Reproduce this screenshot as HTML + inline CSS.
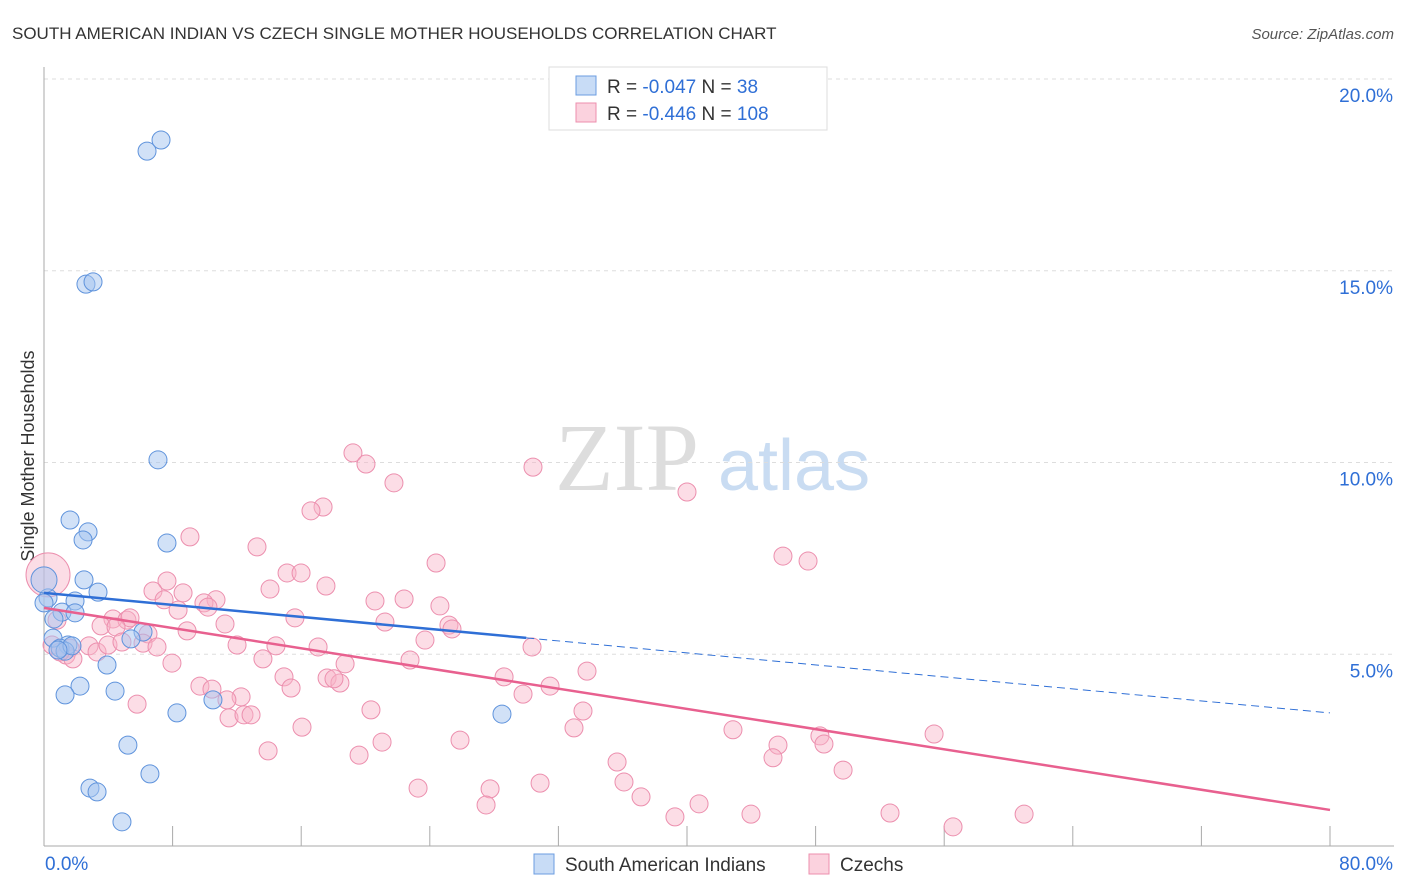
<!DOCTYPE html>
<html><head><meta charset="utf-8">
<style>
body{margin:0;background:#fff;font-family:"Liberation Sans",sans-serif;}
#wrap{position:relative;width:1406px;height:892px;overflow:hidden;}
</style></head>
<body>
<div id="wrap">
<svg id="svg" width="1406" height="892" xmlns="http://www.w3.org/2000/svg">
<text x="12" y="39" font-size="17" fill="#333">SOUTH AMERICAN INDIAN VS CZECH SINGLE MOTHER HOUSEHOLDS CORRELATION CHART</text>
<text x="1394" y="39" font-size="15" fill="#555" font-style="italic" text-anchor="end">Source: ZipAtlas.com</text>
<text x="34" y="456" font-size="18" fill="#333" text-anchor="middle" transform="rotate(-90 34 456)">Single Mother Households</text>
<g>
<text x="555" y="490" font-size="96" fill="#ddd" font-family="Liberation Serif,serif">ZIP</text>
<text x="718" y="490" font-size="72" fill="#c9dcf2">atlas</text>
</g>
<g id="grid"></g>
<g id="axes"></g>
<g id="pts"></g>
<g id="lines"></g>
<g>
<rect x="549" y="67" width="278" height="63" fill="#fff" stroke="#ddd"/>
<rect x="576" y="76" width="20" height="19" fill="rgba(164,196,240,0.6)" stroke="#6b9de0"/>
<rect x="576" y="103" width="20" height="19" fill="rgba(248,180,200,0.6)" stroke="#ec8fae"/>
<text x="607" y="93" font-size="19" fill="#333">R = <tspan fill="#2f6fd6">-0.047</tspan>   N = <tspan fill="#2f6fd6">  38</tspan></text>
<text x="607" y="120" font-size="19" fill="#333">R = <tspan fill="#2f6fd6">-0.446</tspan>   N = <tspan fill="#2f6fd6">108</tspan></text>
</g>
<g>
<rect x="534" y="854" width="20" height="20" fill="rgba(164,196,240,0.6)" stroke="#6b9de0"/>
<text x="565" y="871" font-size="19" fill="#333">South American Indians</text>
<rect x="809" y="854" width="20" height="20" fill="rgba(248,180,200,0.6)" stroke="#ec8fae"/>
<text x="840" y="871" font-size="19" fill="#333">Czechs</text>
</g>
</svg>
</div>
<script>
const yTicks=[5,10,15,20];
const yTickLabels=["5.0%","10.0%","15.0%","20.0%"];
const xTickLabels=["0.0%","80.0%"];
const blueX=[6.41,7.28,2.61,3.05,7.09,1.62,2.74,2.43,7.65,2.49,3.36,0.25,1.93,1.12,1.93,0.62,6.16,0.56,5.41,1.49,1.0,1.31,1.74,3.92,2.24,4.42,1.31,8.27,10.51,28.49,5.22,6.59,2.86,3.3,4.85,0,0,0.87];
const blueY=[18.12,18.41,14.65,14.71,10.07,8.5,8.19,7.98,7.9,6.94,6.62,6.47,6.39,6.1,6.08,5.92,5.58,5.42,5.4,5.24,5.16,5.08,5.22,4.72,4.17,4.04,3.94,3.47,3.81,3.44,2.63,1.88,1.51,1.41,0.63,6.94,6.34,5.11];
const pinkX=[0.25,19.22,20.03,21.77,30.42,40.0,17.36,16.61,9.08,13.25,24.39,45.97,47.53,15.12,15.99,17.54,14.06,7.65,6.78,8.65,10.70,9.95,10.20,20.59,22.40,24.63,15.61,21.21,25.19,25.38,7.47,8.34,4.29,5.16,5.35,3.55,4.48,6.47,8.90,11.26,6.16,7.03,12.01,14.43,17.05,23.70,30.36,1.62,2.80,3.30,3.98,4.85,1.37,1.80,13.62,18.73,22.77,7.96,33.78,14.93,28.62,17.61,18.41,18.04,15.37,31.48,9.70,10.45,12.26,29.80,11.38,5.79,20.34,11.51,12.44,12.88,33.53,16.05,32.97,13.94,21.03,25.88,42.86,55.37,48.27,48.52,45.66,45.35,19.60,35.65,49.71,36.08,30.86,23.27,27.75,37.14,27.50,40.75,43.98,39.25,52.63,60.97,56.55,0.81,0.50,1.00];
const pinkY=[7.07,10.25,9.96,9.47,9.88,9.23,8.84,8.74,8.06,7.80,7.38,7.56,7.43,7.12,7.12,6.78,6.70,6.91,6.65,6.60,6.42,6.34,6.23,6.39,6.44,6.26,5.95,5.84,5.76,5.66,6.42,6.15,5.92,5.89,5.95,5.74,5.71,5.53,5.61,5.79,5.29,5.19,5.24,5.22,5.19,5.37,5.19,5.16,5.22,5.06,5.24,5.32,4.98,4.88,4.88,4.75,4.85,4.77,4.56,4.41,4.41,4.38,4.25,4.36,4.12,4.17,4.17,4.09,3.89,3.96,3.81,3.70,3.55,3.34,3.42,3.42,3.52,3.10,3.08,2.48,2.71,2.76,3.03,2.92,2.87,2.66,2.63,2.30,2.37,2.19,1.98,1.67,1.64,1.51,1.49,1.28,1.07,1.10,0.83,0.76,0.86,0.83,0.50,5.89,5.24,5.06];
const blueTrend=[6.60,3.47];
const pinkTrend=[6.21,0.94];
const blueSolidEnd=30;
const NS="http://www.w3.org/2000/svg";
const X0=44,X1=1330,Y0=846,YP=38.35;
function sx(v){return X0+(v/80)*(X1-X0);}
function sy(v){return Y0-v*YP;}
function mk(tag,attrs,parent){const e=document.createElementNS(NS,tag);for(const k in attrs)e.setAttribute(k,attrs[k]);parent.appendChild(e);return e;}
const grid=document.getElementById('grid'),axes=document.getElementById('axes'),pts=document.getElementById('pts'),lines=document.getElementById('lines');
yTicks.forEach((t,i)=>{
 const l=mk('line',{x1:X0,x2:1394,y1:sy(t),y2:sy(t),stroke:'#ddd','stroke-dasharray':'4,4'},grid);
 
 
 const tx=mk('text',{x:1393,y:sy(t)+23,'font-size':19,fill:'#2f6fd6','text-anchor':'end'},grid);
 tx.textContent=yTickLabels[i];
 
 
});
const ya=mk('line',{x1:X0,x2:X0,y1:67,y2:Y0,stroke:'#aaa'},axes);


const xa=mk('line',{x1:X0,x2:1394,y1:Y0,y2:Y0,stroke:'#aaa'},axes);


for(let k=1;k<=10;k++){
 const t=mk('line',{x1:sx(k*8),x2:sx(k*8),y1:826,y2:Y0,stroke:'#aaa'},axes);
 
 
}
[[0,'start',45],[80,'end',1393]].forEach((d,i)=>{
 const tx=mk('text',{x:d[2],y:870,'font-size':19,fill:'#2f6fd6','text-anchor':d[1]},axes);
 tx.textContent=xTickLabels[i];
 
 
});
pinkX.forEach((x,i)=>{
 const c=mk('circle',{cx:sx(x),cy:sy(pinkY[i]),r:i===0?22:9,fill:'rgba(248,180,200,0.45)',stroke:'#ec8fae','stroke-width':1},pts);
 
 
});
blueX.forEach((x,i)=>{
 const c=mk('circle',{cx:sx(x),cy:sy(blueY[i]),r:i===35?13:9,fill:'rgba(164,196,240,0.5)',stroke:'#5f93dc','stroke-width':1},pts);
 
 
});
function ty(tr,x){return tr[0]+(tr[1]-tr[0])*x/80;}
const pl=mk('line',{x1:sx(0),y1:sy(pinkTrend[0]),x2:sx(80),y2:sy(pinkTrend[1]),stroke:'#e8608f','stroke-width':2.5},lines);


const bl=mk('line',{x1:sx(0),y1:sy(blueTrend[0]),x2:sx(blueSolidEnd),y2:sy(ty(blueTrend,blueSolidEnd)),stroke:'#2f6fd6','stroke-width':2.5},lines);


const bd=mk('line',{x1:sx(blueSolidEnd),y1:sy(ty(blueTrend,blueSolidEnd)),x2:sx(80),y2:sy(blueTrend[1]),stroke:'#2f6fd6','stroke-width':1,'stroke-dasharray':'8,5'},lines);


</script>
</body></html>
